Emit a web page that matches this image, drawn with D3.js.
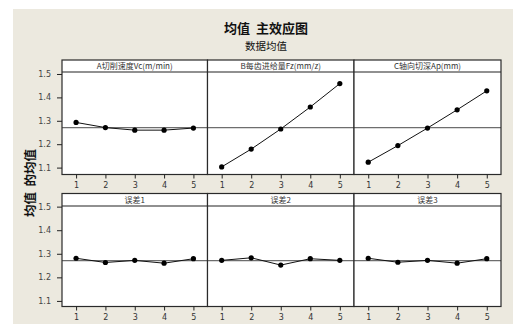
<!DOCTYPE html>
<html>
<head>
<meta charset="utf-8">
<script src="https://cdn.jsdelivr.net/npm/d3@7"></script>
<style>
  html, body { margin: 0; padding: 0; background: #fff; }
  svg { display: block; }
  text { white-space: pre; }
</style>
</head>
<body>
<svg id="chart" width="513" height="324"></svg>
<script>
// Main effects plot for means: six factors, five levels each
const levels = [1, 2, 3, 4, 5];
const yTicks = [1.1, 1.2, 1.3, 1.4, 1.5];
const factorNames = [
  "A切削速度Vc(m/min)", "B每齿进给量Fz(mm/z)", "C轴向切深Ap(mm)",
  "误差1", "误差2", "误差3"
];
const meanA  = [1.293, 1.271, 1.260, 1.260, 1.269];
const meanB  = [1.103, 1.179, 1.265, 1.359, 1.459];
const meanC  = [1.123, 1.194, 1.269, 1.347, 1.428];
const meanE1 = [1.281, 1.263, 1.272, 1.260, 1.279];
const meanE2 = [1.272, 1.283, 1.252, 1.279, 1.272];
const meanE3 = [1.281, 1.264, 1.272, 1.260, 1.279];
const grandMean = 1.271;
const titleText = "均值  主效应图";
const subtitleText = "数据均值";
const yLabelText = "均值  的均值";

const series = [meanA, meanB, meanC, meanE1, meanE2, meanE3];

const svg = d3.select("#chart");
const cjk = "'Noto Sans CJK SC', 'Noto Sans', sans-serif";

// window background
svg.append("rect").attr("x", 13).attr("y", 9).attr("width", 500).attr("height", 315)
  .attr("fill", "#ece9df");

svg.append("text").attr("x", 266).attr("y", 33).attr("text-anchor", "middle")
  .attr("font-family", cjk).attr("font-weight", "bold").attr("font-size", 13)
  .attr("fill", "#111").text(titleText);
svg.append("text").attr("x", 266).attr("y", 49.5).attr("text-anchor", "middle")
  .attr("font-family", cjk).attr("font-size", 10.5)
  .attr("fill", "#111").text(subtitleText);
svg.append("text").attr("transform", "translate(35,183) rotate(-90)")
  .attr("text-anchor", "middle")
  .attr("font-family", cjk).attr("font-weight", "bold").attr("font-size", 12.5)
  .attr("fill", "#111").text(yLabelText);

// grid layout
const colEdges = [62, 207.5, 354, 501];
const rows = [
  { top: 60, strip: 72, bottom: 174.5 },
  { top: 193.5, strip: 206, bottom: 306.5 }
];

series.forEach((vals, i) => {
  const r = rows[Math.floor(i / 3)];
  const c = i % 3;
  const x0 = colEdges[c], x1 = colEdges[c + 1];
  const x = d3.scaleLinear().domain([0.52, 5.48]).range([x0, x1]);
  const y = d3.scaleLinear().domain([1.0705, 1.5085]).range([r.bottom, r.strip]);
  if (i >= 3) y.domain([1.0763, 1.5027]);

  const g = svg.append("g");
  // plot area
  g.append("rect").attr("x", x0).attr("y", r.top).attr("width", x1 - x0)
    .attr("height", r.bottom - r.top).attr("fill", "#fff");

  // strip label
  g.append("text").attr("x", (x0 + x1) / 2).attr("y", r.top + 9)
    .attr("text-anchor", "middle").attr("font-family", cjk).attr("font-size", 8)
    .attr("fill", "#333").text(factorNames[i]);
  g.append("line").attr("x1", x0).attr("x2", x1).attr("y1", r.strip).attr("y2", r.strip)
    .attr("stroke", "#222").attr("stroke-width", 1.2);

  // grand mean reference line
  g.append("line").attr("x1", x0).attr("x2", x1)
    .attr("y1", y(grandMean)).attr("y2", y(grandMean))
    .attr("stroke", "#6e6e6e").attr("stroke-width", 1.2);

  // means
  const line = d3.line().x((d, k) => x(levels[k])).y(d => y(d));
  g.append("path").datum(vals).attr("d", line).attr("fill", "none")
    .attr("stroke", "#111").attr("stroke-width", 1);
  g.selectAll("circle").data(vals).join("circle")
    .attr("cx", (d, k) => x(levels[k])).attr("cy", d => y(d)).attr("r", 2.6)
    .attr("fill", "#000");

  // frame
  g.append("rect").attr("x", x0).attr("y", r.top).attr("width", x1 - x0)
    .attr("height", r.bottom - r.top).attr("fill", "none")
    .attr("stroke", "#2a2a2a").attr("stroke-width", 1.2);

  // x axis
  const xa = g.append("g").attr("transform", `translate(0,${r.bottom})`)
    .call(d3.axisBottom(x).tickValues(levels).tickSize(4).tickPadding(4).tickFormat(d3.format("d")));
  xa.select(".domain").remove();
  xa.selectAll("line").attr("stroke", "#222");
  xa.selectAll("text").attr("font-family", "'DejaVu Sans', sans-serif").attr("font-size", 8)
    .attr("fill", "#333");

  // y axis on first column
  if (c === 0) {
    const ya = g.append("g").attr("transform", `translate(${x0},0)`)
      .call(d3.axisLeft(y).tickValues(yTicks).tickSize(5).tickPadding(6).tickFormat(d3.format(".1f")));
    ya.select(".domain").remove();
    ya.selectAll("line").attr("stroke", "#222");
    ya.selectAll("text").attr("font-family", "'DejaVu Sans', sans-serif").attr("font-size", 8)
      .attr("fill", "#444");
  }
});
</script>
</body>
</html>
